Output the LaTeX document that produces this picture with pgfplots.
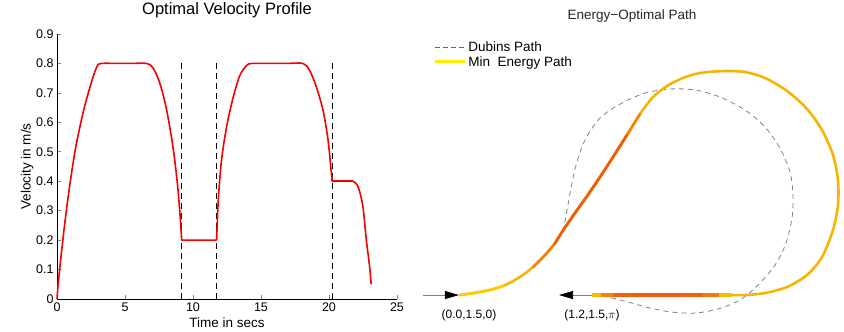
\documentclass[border=0pt]{standalone}
\usepackage{fontspec}
\setmainfont{Liberation Sans}
\usepackage{pgfplots}
\pgfplotsset{compat=1.18}
\usetikzlibrary{arrows.meta}

\definecolor{dubins}{RGB}{115,130,160}
\definecolor{vred}{RGB}{245,0,0}
\definecolor{legyellow}{RGB}{255,238,0}
\definecolor{pathbase}{RGB}{247,180,0}
\definecolor{pathstart}{RGB}{252,205,0}
\definecolor{pathmid}{RGB}{245,130,8}
\definecolor{pathhot}{RGB}{242,92,12}

\pgfplotstableread{
t v
0 0
0.12 0.067
0.49 0.225
0.86 0.36
1.34 0.506
1.96 0.641
2.57 0.742
2.95 0.790
3.25 0.8
4.5 0.8
5.5 0.8
6.60 0.8
7.09 0.783
7.58 0.73
8.07 0.64
8.56 0.506
8.92 0.36
9.15 0.215
}\riseA

\pgfplotstableread{
t v
9.15 0.215
9.17 0.2
11.74 0.2
}\flatA

\pgfplotstableread{
t v
11.74 0.2
11.86 0.3375
12.10 0.472
12.47 0.585
12.96 0.686
13.45 0.76
13.94 0.793
14.30 0.8
15.5 0.8
16.8 0.8
18.09 0.8
18.58 0.776
19.07 0.72
19.56 0.641
19.93 0.54
20.17 0.43
20.24 0.41
}\riseB

\pgfplotstableread{
t v
20.24 0.41
20.24 0.4
21.76 0.4
}\flatB

\pgfplotstableread{
t v
21.76 0.4
22.13 0.3825
22.49 0.315
22.74 0.2025
22.98 0.1125
23.10 0.05
}\fallC

\pgfplotstableread{
x y
0.000 1.500
0.227 1.536
0.391 1.582
0.545 1.664
0.664 1.755
0.773 1.864
0.864 1.973
0.945 2.100
1.045 2.245
1.155 2.400
1.273 2.573
1.391 2.755
1.518 2.955
1.636 3.145
1.755 3.300
1.882 3.400
2.027 3.473
2.182 3.518
2.391 3.536
2.591 3.527
2.773 3.473
2.973 3.355
3.155 3.191
3.291 3.000
3.391 2.773
3.436 2.545
3.436 2.318
3.391 2.091
3.291 1.845
3.155 1.682
2.973 1.573
2.773 1.518
2.591 1.500
2.473 1.500
}\minpath

\pgfplotstableread{
x y
0.000 1.500
0.227 1.536
0.391 1.582
}\minstart

\pgfplotstableread{
x y
0.664 1.755
0.773 1.864
0.864 1.973
0.945 2.100
1.045 2.245
1.155 2.400
1.273 2.573
1.391 2.755
1.518 2.955
1.636 3.145
}\minmid

\pgfplotstableread{
x y
0.864 1.973
0.945 2.100
1.045 2.245
1.155 2.400
1.273 2.573
1.391 2.755
1.518 2.955
}\minhot

\pgfplotstableread{
x y c
2.473 1.5 0.10
2.35 1.5 0.70
2.20 1.5 0.95
2.00 1.5 1.00
1.60 1.5 1.00
1.40 1.5 0.95
1.28 1.5 0.60
1.20 1.5 0.20
}\straight

\pgfplotstableread{
x y
0.000 1.500
0.227 1.536
0.391 1.582
0.545 1.664
0.664 1.755
0.773 1.864
0.864 1.973
0.936 2.100
0.973 2.273
1.009 2.473
1.055 2.682
1.136 2.909
1.273 3.109
1.455 3.236
1.682 3.336
1.909 3.373
2.136 3.364
2.364 3.300
2.591 3.182
2.773 3.027
2.909 2.836
3.000 2.618
3.027 2.409
3.018 2.200
2.964 1.973
2.864 1.773
2.709 1.591
2.545 1.455
2.345 1.373
2.136 1.336
1.927 1.345
1.727 1.382
1.527 1.436
1.345 1.482
1.200 1.500
}\dubinspath

\begin{document}
\begin{tikzpicture}[x=1pt,y=1pt]
\useasboundingbox (0,0) rectangle (844,332);
\begin{axis}[
  at={(57pt,33pt)}, anchor=south west, scale only axis,
  width=340pt, height=265pt,
  xmin=0, xmax=25, ymin=0, ymax=0.9,
  axis lines=left, axis line style={-, line width=0.6pt},
  tick align=inside, major tick length=4pt,
  tick style={line width=0.6pt},
  xtick={0,5,10,15,20,25},
  ytick={0,0.1,0.2,0.3,0.4,0.5,0.6,0.7,0.8,0.9},
  /pgf/number format/assume math mode=true,
  ticklabel style={font=\fontsize{12.5}{14}\selectfont},
  xlabel={Time in secs}, ylabel={Velocity in m/s},
  label style={font=\fontsize{13.5}{15}\selectfont},
  xlabel style={at={(axis description cs:0.5,-0.09)}, anchor=center},
  ylabel style={at={(axis description cs:-0.088,0.5)}, anchor=center},
  title={Optimal Velocity Profile},
  title style={at={(0.5,1.068)}, anchor=center, font=\fontsize{16.5}{18}\selectfont},
  clip=false,
]
\addplot[black, line width=0.6pt, dash pattern=on 6pt off 4pt] coordinates {(9.17,0) (9.17,0.8)};
\addplot[black, line width=0.6pt, dash pattern=on 6pt off 4pt] coordinates {(11.74,0) (11.74,0.8)};
\addplot[black, line width=0.6pt, dash pattern=on 6pt off 4pt] coordinates {(20.24,0) (20.24,0.8)};
\addplot[vred, line width=1.6pt, smooth, tension=0.5, line join=round] table[x=t, y=v] {\riseA};
\addplot[vred, line width=1.6pt, line join=round] table[x=t, y=v] {\flatA};
\addplot[vred, line width=1.6pt, smooth, tension=0.5, line join=round] table[x=t, y=v] {\riseB};
\addplot[vred, line width=1.6pt, line join=round] table[x=t, y=v] {\flatB};
\addplot[vred, line width=1.6pt, smooth, tension=0.5, line join=round] table[x=t, y=v] {\fallC};
\end{axis}

\begin{axis}[
  at={(420pt,0pt)}, anchor=south west, scale only axis,
  width=424pt, height=332pt,
  xmin=-0.364, xmax=3.491, ymin=1.164, ymax=4.182,
  hide axis, clip=false,
  colormap={pathmap}{rgb255=(255,225,0) rgb255=(247,178,0) rgb255=(242,90,12)},
  point meta min=0, point meta max=1,
  legend style={at={(0.024,0.886)}, anchor=north west, draw=none, fill=none,
    font=\fontsize{13.5}{15}\selectfont, row sep=-1pt},
  legend cell align=left,
  legend image code/.code={\draw[#1] (0pt,0pt) -- (30pt,0pt);},
]
\addlegendimage{dubins!80!black, line width=0.8pt, dash pattern=on 5pt off 3pt}
\addlegendentry{Dubins Path}
\addlegendimage{legyellow, line width=3pt}
\addlegendentry{Min\ \ Energy Path}

\addplot[dubins, line width=0.8pt, dash pattern=on 5pt off 4pt, smooth, forget plot] table[x=x, y=y] {\dubinspath};
\addplot[pathbase, line width=2.6pt, smooth, line cap=round, forget plot] table[x=x, y=y] {\minpath};
\addplot[pathstart, line width=2.6pt, smooth, line cap=round, forget plot] table[x=x, y=y] {\minstart};
\addplot[pathmid, line width=2.6pt, smooth, line cap=round, forget plot] table[x=x, y=y] {\minmid};
\addplot[pathhot, line width=2.6pt, smooth, line cap=round, forget plot] table[x=x, y=y] {\minhot};
\addplot[mesh, line width=4.5pt, point meta=explicit, forget plot] table[x=x, y=y, meta=c] {\straight};
\addplot[gray, line width=0.6pt, -{Triangle[length=14pt,width=8pt,black]}, forget plot] coordinates {(-0.336,1.5) (-0.01,1.5)};
\addplot[gray, line width=0.6pt, -{Triangle[length=14pt,width=8pt,black]}, forget plot] coordinates {(1.2,1.5) (0.9,1.5)};

\node[font=\fontsize{13.5}{15}\selectfont, text=black!85] at (rel axis cs:0.5,0.952) {Energy{\char"2212}Optimal Path};
\node[font=\fontsize{12}{14}\selectfont] at (axis cs:0.082,1.318) {(0.0,1.5,0)};
\node[font=\fontsize{12}{14}\selectfont] at (axis cs:1.2,1.318) {(1.2,1.5,$\pi$)};
\end{axis}
\end{tikzpicture}
\end{document}
